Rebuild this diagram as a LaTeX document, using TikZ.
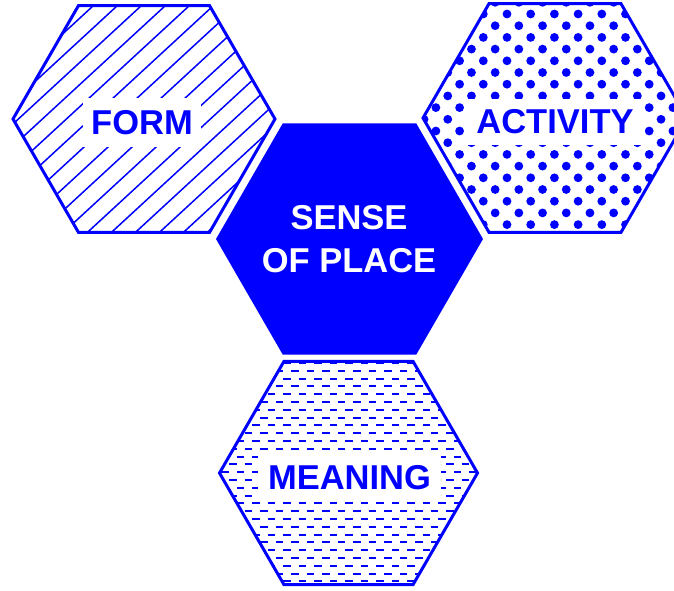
\documentclass[tikz,border=0pt]{standalone}
\usepackage{fontspec}
\setmainfont{Liberation Sans}
\definecolor{hexblue}{RGB}{0,0,255}
\newcommand\hexagonpath[3]{({#1-#3},{#2}) -- ({#1-#3/2},{#2-0.866*#3}) -- ({#1+#3/2},{#2-0.866*#3}) -- ({#1+#3},{#2}) -- ({#1+#3/2},{#2+0.866*#3}) -- ({#1-#3/2},{#2+0.866*#3}) -- cycle}
\tikzset{
  hexborder/.style={draw=hexblue, line width=3pt, line join=miter},
  hatchline/.style={draw=hexblue, line width=1.5pt},
  dashline/.style={draw=hexblue, line width=2pt, dash pattern=on 7.5pt off 8pt},
  dotfill/.style={fill=hexblue},
  labelbox/.style={fill=white, inner sep=0pt, text=hexblue, text height=24.5pt, text depth=0pt,
    font=\fontsize{34.5}{43}\selectfont\bfseries},
  centrelabel/.style={inner sep=0pt, text=white, align=center,
    font=\fontsize{34.5}{43}\selectfont\bfseries}
}
\begin{document}
\begin{tikzpicture}[x=1pt,y=-1pt]
\useasboundingbox (0,0) rectangle (674,590);
\clip (0,0) rectangle (674,590);
% FORM hexagon: hatched
\begin{scope}
  \clip \hexagonpath{144}{119}{131};
  \foreach \k in {-14,...,12}
    \draw[hatchline] ({114.4+\k*24-200},{119+200*0.922}) -- ({114.4+\k*24+200},{119-200*0.922});
\end{scope}
\node[labelbox, minimum width=118pt, minimum height=49pt] (form) at (142,122.5) {FORM};
\draw[hexborder] \hexagonpath{144}{119}{131};
% ACTIVITY hexagon: dotted
\begin{scope}
  \clip \hexagonpath{555}{118}{132};
  \foreach \j in {-1,...,20}
    \foreach \i in {-12,...,8}
      \fill[dotfill] ({507+\i*23.7+mod(\j,2)*11.85},{14+\j*11.7}) circle (4.4);
\end{scope}
\node[labelbox, minimum width=178pt, minimum height=46pt] (activity) at (555,121.5) {ACTIVITY};
\draw[hexborder] \hexagonpath{555}{118}{132};
% MEANING hexagon: dashed rows
\begin{scope}
  \clip \hexagonpath{348.5}{473}{129};
  \foreach \j in {-2,...,30}
    \draw[dashline] ({198-mod(\j,2)*7.75},{370.7+\j*7.8}) -- (520,{370.7+\j*7.8});
\end{scope}
\node[labelbox, minimum width=183pt, minimum height=45pt] (meaning) at (349.5,477.5) {MEANING};
\draw[hexborder] \hexagonpath{348.5}{473}{129};
% Centre hexagon
\fill[hexblue] \hexagonpath{349.5}{239}{133.5};
\node[centrelabel] (sense) at (349,239.4) {SENSE\\OF PLACE};
\end{tikzpicture}
\end{document}
